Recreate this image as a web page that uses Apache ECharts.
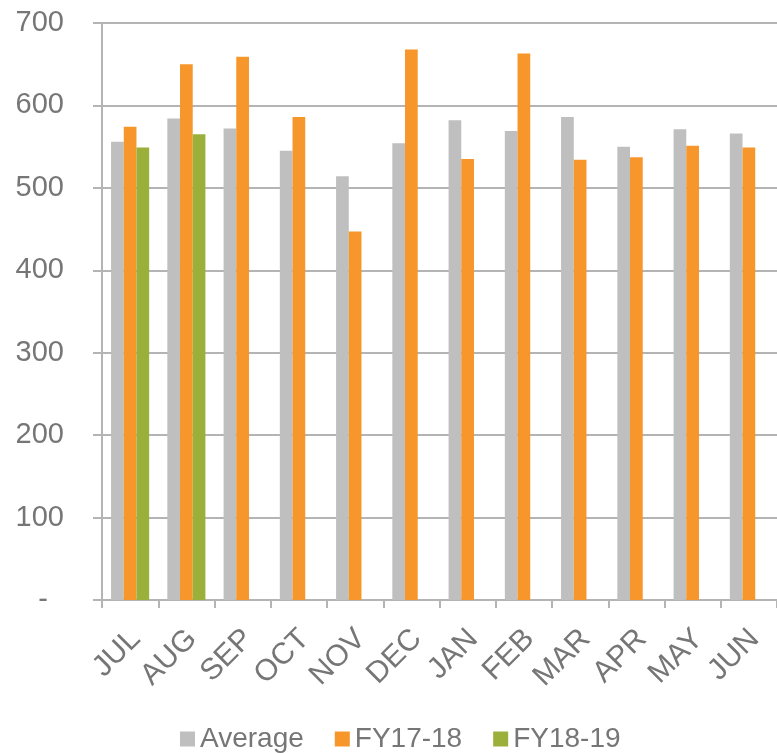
<!DOCTYPE html>
<html>
<head>
<meta charset="utf-8">
<script src="https://cdn.jsdelivr.net/npm/echarts@6/dist/echarts.min.js"></script>
<style>
  html, body { margin: 0; padding: 0; background: #fff; }
  #chart { width: 777px; height: 753px; }
</style>
</head>
<body>
<div id="chart"></div>
<script>
const months = ["JUL", "AUG", "SEP", "OCT", "NOV", "DEC", "JAN", "FEB", "MAR", "APR", "MAY", "JUN"];
const average = [556, 584, 572, 545, 514, 554, 582, 569, 586, 550, 571, 566];
const fy1718 = [574, 650, 659, 586, 447, 668, 535, 663, 534, 537, 551, 549];
const fy1819 = [549, 565, null, null, null, null, null, null, null, null, null, null];

const font = "Liberation Sans, Arial, sans-serif";
const textColor = "#767676";
const lineColor = "#b4b4b4";

const chart = echarts.init(document.getElementById("chart"));

const bar = (name, data, color) => ({
  name: name,
  type: "bar",
  data: data,
  barWidth: 12.7,
  barGap: "0%",
  itemStyle: { color: color },
  animation: false,
});

chart.setOption({
  textStyle: { fontFamily: font },
  grid: { left: 102, top: 23, width: 680, height: 577 },
  legend: {
    left: 175,
    top: 720,
    itemWidth: 15,
    itemHeight: 15,
    itemGap: 31,
    icon: "rect",
    textStyle: { fontSize: 28, color: textColor, fontFamily: font },
    data: ["Average", "FY17-18", "FY18-19"],
  },
  xAxis: {
    type: "category",
    data: months,
    axisLine: { lineStyle: { color: lineColor, width: 2 } },
    axisTick: { show: true, length: 8, lineStyle: { color: lineColor, width: 2 } },
    axisLabel: {
      rotate: 45,
      margin: 40,
      fontSize: 30,
      color: textColor,
      fontFamily: font,
      interval: 0,
      padding: [0, -8, 0, 0],
    },
  },
  yAxis: {
    type: "value",
    min: 0,
    max: 700,
    interval: 100,
    axisLine: { show: true, lineStyle: { color: lineColor, width: 2 } },
    axisTick: { show: true, length: 9, lineStyle: { color: lineColor, width: 2 } },
    splitLine: { lineStyle: { color: lineColor, width: 2 } },
    axisLabel: {
      margin: 38,
      fontSize: 29,
      color: textColor,
      fontFamily: font,
      formatter: (v) => (v === 0 ? "-  " : String(v)),
    },
  },
  series: [
    bar("Average", average, "#bfbfbf"),
    bar("FY17-18", fy1718, "#f7962a"),
    bar("FY18-19", fy1819, "#9bb03b"),
  ],
});
</script>
</body>
</html>
